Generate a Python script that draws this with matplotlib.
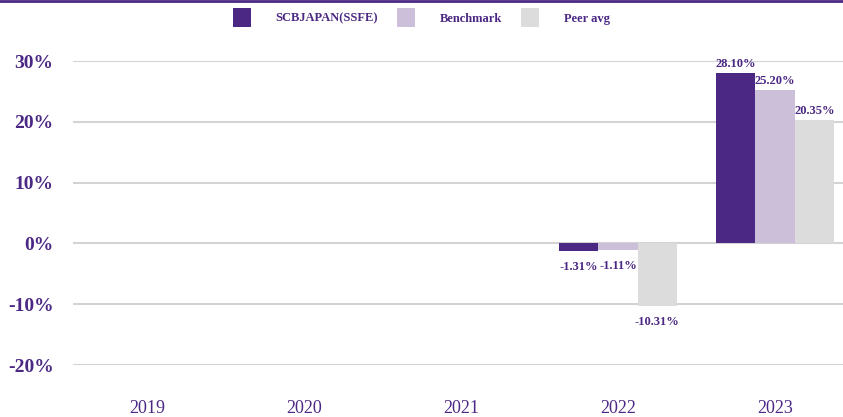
import matplotlib
matplotlib.use("Agg")
import matplotlib.pyplot as plt
from matplotlib.lines import Line2D
import numpy as np

years = ["2019", "2020", "2021", "2022", "2023"]
fund = [np.nan, np.nan, np.nan, -1.31, 28.10]
benchmark = [np.nan, np.nan, np.nan, -1.11, 25.20]
peer_avg = [np.nan, np.nan, np.nan, -10.31, 20.35]
series_names = ["SCBJAPAN(SSFE)", "Benchmark", "Peer avg"]
y_ticks = [-20, -10, 0, 10, 20, 30]

PURPLE = "#4B2884"
LAVENDER = "#CBBFD9"
GREY = "#DCDCDC"
TEXT = "#4B2884"

plt.rcParams["font.family"] = ["Liberation Serif", "DejaVu Serif"]

fig = plt.figure(figsize=(8.43, 4.17), dpi=100)
ax = fig.add_axes([73 / 843, 1 - 365 / 417, 770 / 843, 304 / 417])

x = np.arange(len(years))
width = 0.25
colors = [PURPLE, LAVENDER, GREY]
for k, (vals, name, col) in enumerate(zip([fund, benchmark, peer_avg], series_names, colors)):
    xs = x + (k - 1) * width
    ax.bar(xs, vals, width=width, color=col, label=name, zorder=3)
    for xi, v in zip(xs, vals):
        if np.isnan(v):
            continue
        off = 2 if v >= 0 else -7
        va = "bottom" if v >= 0 else "top"
        ax.annotate(f"{v:.2f}%", (xi, v), xytext=(0, off), textcoords="offset points",
                    ha="center", va=va, fontsize=9, fontweight="bold", color=TEXT,
                    annotation_clip=False, zorder=4)

ax.set_xlim(-0.471, 4.433)
ax.set_ylim(-20, 30)
ax.set_yticks(y_ticks)
ax.set_yticklabels([f"{t}%" for t in y_ticks], fontsize=14, fontweight="bold", color=TEXT)
ax.set_xticks(x)
ax.set_xticklabels(years, fontsize=13, color=TEXT)
ax.tick_params(axis="both", length=0)
ax.tick_params(axis="y", pad=14)
ax.tick_params(axis="x", pad=25)
ax.grid(axis="y", color="#D3D3D3", linewidth=1.5, zorder=0)
for s in ax.spines.values():
    s.set_visible(False)

fig.legend(loc="upper center", bbox_to_anchor=(0.5, 1.008), ncol=3, frameon=False,
           handlelength=1.45, handleheight=2.0, handletextpad=2.0, columnspacing=1.5,
           prop={"size": 9, "weight": "bold"}, labelcolor=TEXT)

fig.add_artist(Line2D([0, 1], [0.998, 0.998], transform=fig.transFigure, color=PURPLE, linewidth=2))

fig.savefig("out.png", dpi=100)
